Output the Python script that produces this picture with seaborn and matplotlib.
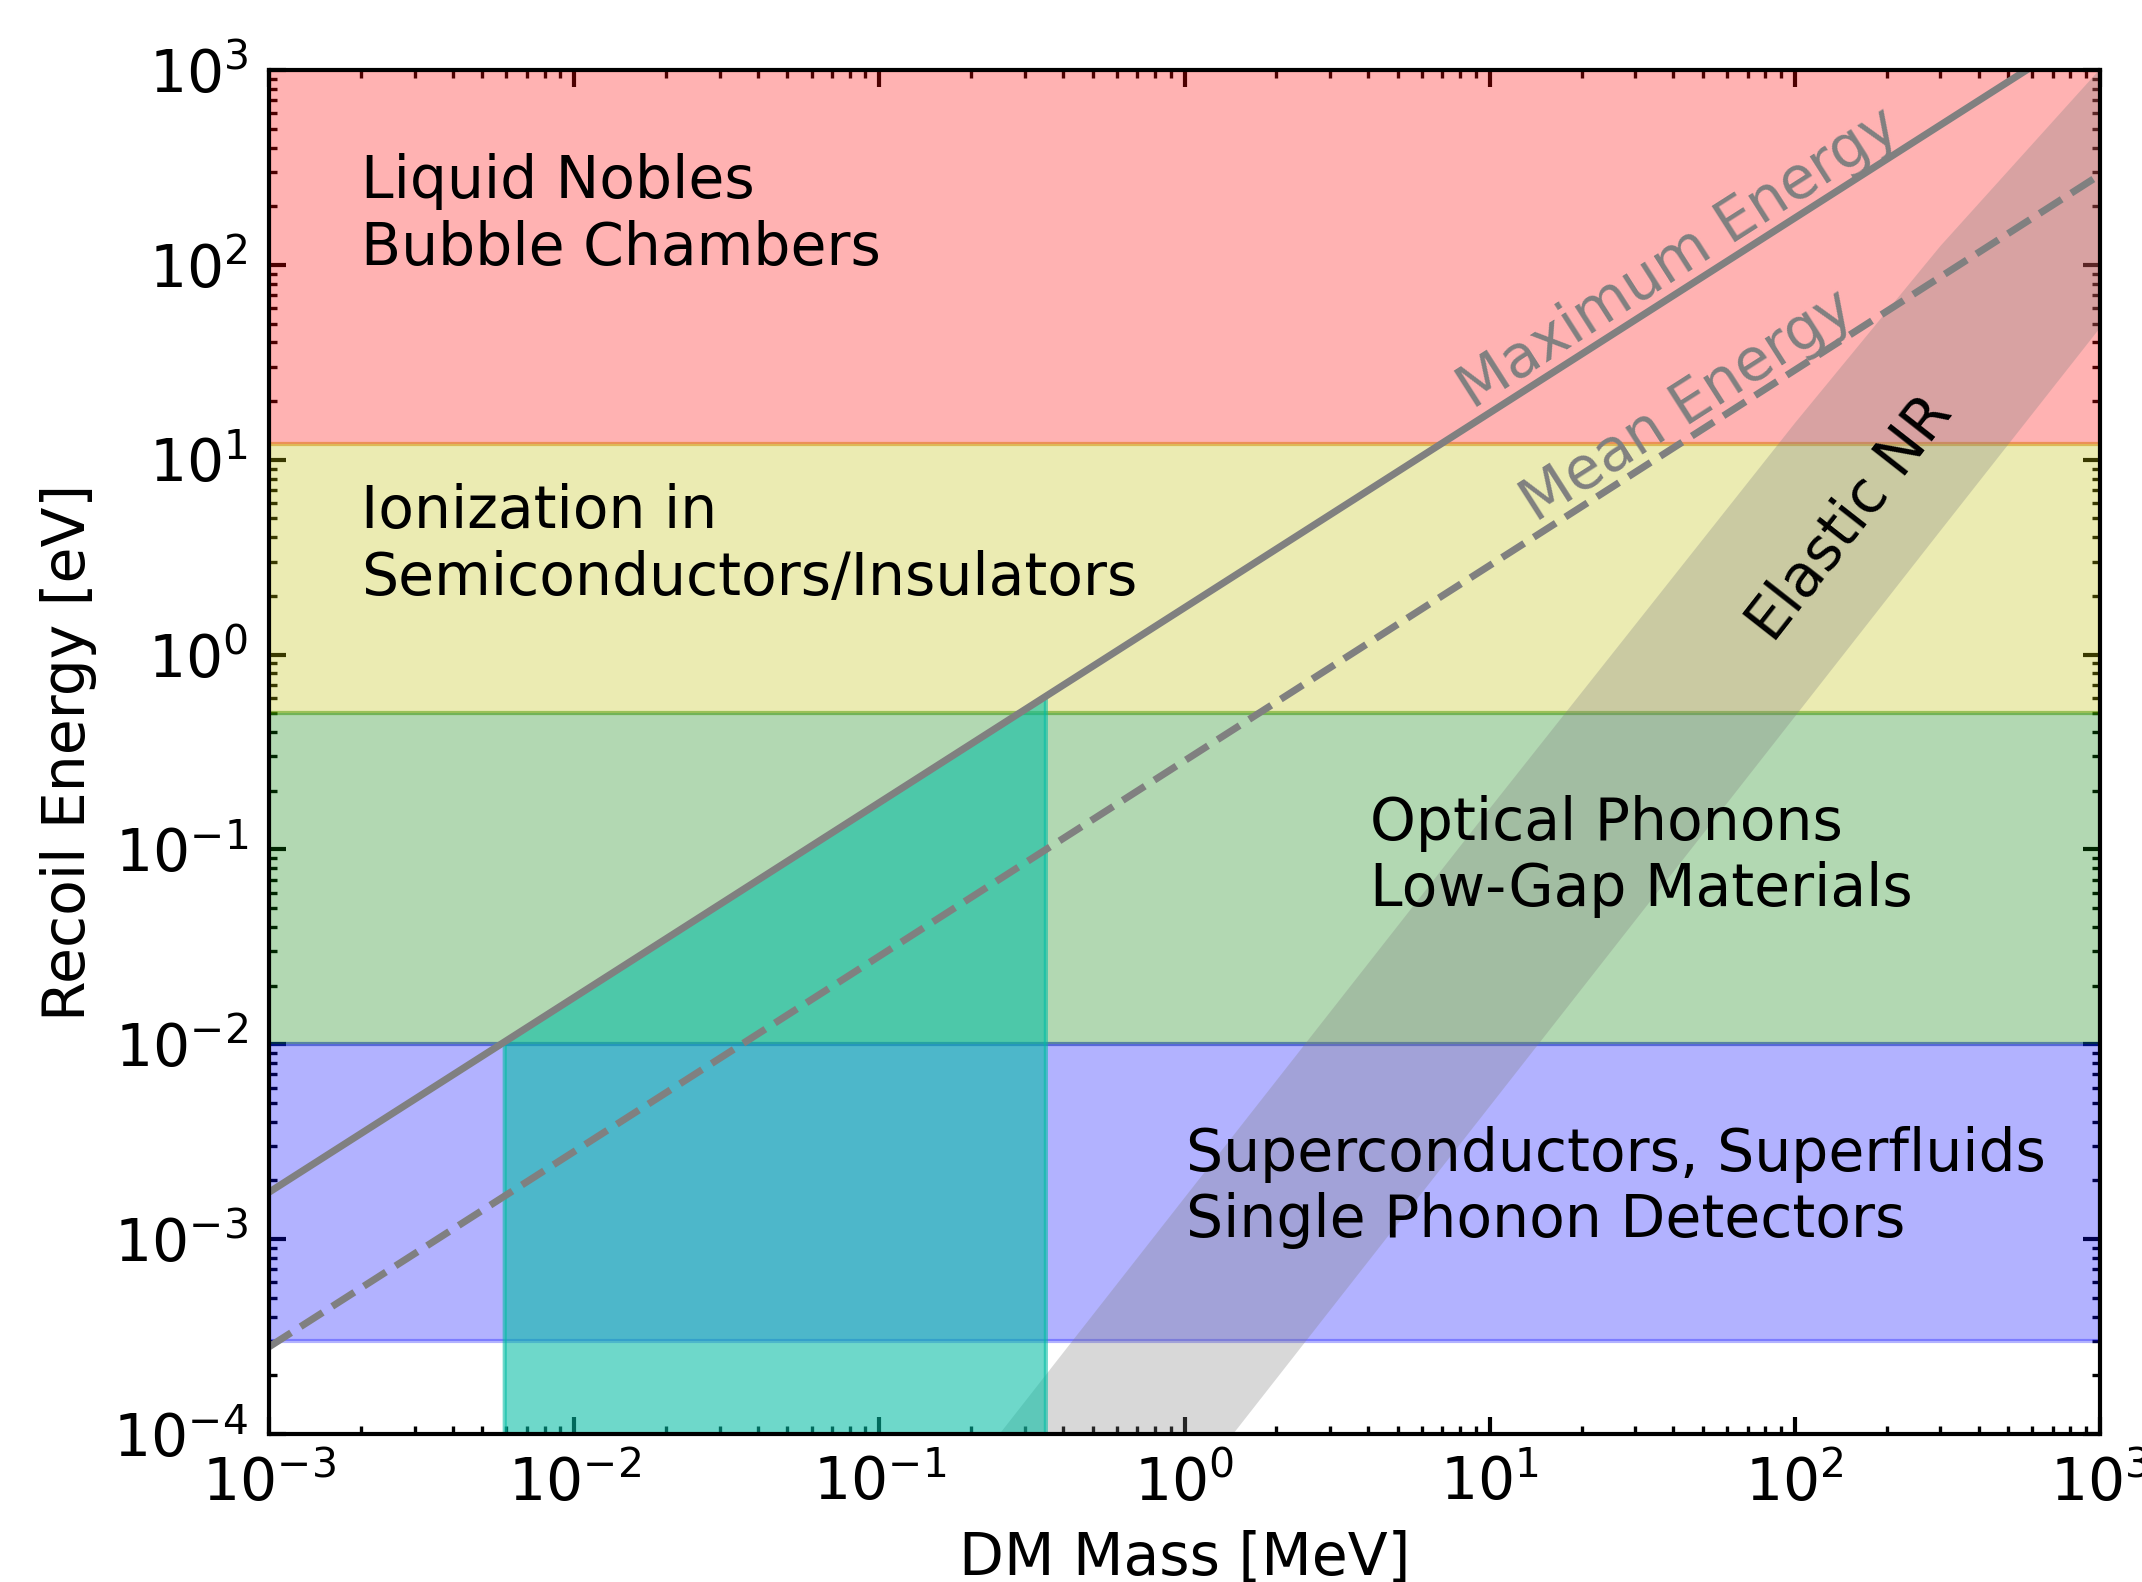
import numpy as np
import pandas as pd
import matplotlib
matplotlib.use("Agg")
import matplotlib.pyplot as plt
import seaborn as sns

# ---------------- data ----------------
mass_range = [1e-3, 1e3]          # DM mass axis [MeV]
energy_range = [1e-4, 1e3]        # recoil energy axis [eV]

band_names = ["Liquid Nobles\nBubble Chambers",
              "Ionization in\nSemiconductors/Insulators",
              "Optical Phonons\nLow-Gap Materials",
              "Superconductors, Superfluids\nSingle Phonon Detectors"]
band_low = [12.0, 0.5, 0.01, 3e-4]
band_high = [1e3, 12.0, 0.5, 0.01]
band_colors = ["red", "y", "g", "b"]
band_label_x = [2.0e-3, 2.0e-3, 4.06, 1.01]
band_label_y = [180.0, 3.65, 0.092, 1.84e-3]

line_mass = [1e-3, 1e3]
max_energy = [1.74e-3, 1.74e3]
mean_energy = [2.8e-4, 2.9e2]

nr_mass = [0.1, 1.0, 10.0, 100.0, 300.0, 1000.0]
nr_upper = [1.63e-5, 1.63e-3, 0.162, 15.4, 125.0, 1010.0]
nr_lower = [4.8e-7, 4.8e-5, 4.8e-3, 0.48, 4.32, 47.5]

teal_mass = [0.0059, 0.35]
teal_top = [0.0103, 0.61]

# ---------------- figure ----------------
sns.set_style("white")
plt.rcParams['font.family'] = ['DejaVu Sans']
plt.rcParams['mathtext.fontset'] = 'dejavusans'
plt.rcParams['mathtext.default'] = 'regular'
plt.rcParams['text.color'] = 'black'
plt.rcParams['axes.labelcolor'] = 'black'
plt.rcParams['xtick.color'] = 'black'
plt.rcParams['ytick.color'] = 'black'

FS = 14
fig = plt.figure(figsize=(2142 / 300, 1582 / 300), dpi=300)
ax = fig.add_axes([269 / 2142, 1 - 1434 / 1582, 1831 / 2142, 1364 / 1582])
ax.set_xscale('log')
ax.set_yscale('log')
ax.set_xlim(*mass_range)
ax.set_ylim(*energy_range)

# detector bands
for lo, hi, c in zip(band_low, band_high, band_colors):
    ax.fill_between(mass_range, [lo, lo], [hi, hi], color=c, alpha=0.3,
                    linewidth=1.0, zorder=1)

# elastic NR band
ax.fill_between(nr_mass, nr_lower, nr_upper, facecolor='gray', alpha=0.3,
                linewidth=0, zorder=1.5)

# teal region
ax.fill_between(teal_mass, [energy_range[0]] * 2, teal_top, color='#00BCA3',
                alpha=0.57, linewidth=1.0, zorder=1.7)

# kinematic lines
df = pd.DataFrame({"mass": line_mass, "max": max_energy, "mean": mean_energy})
sns.lineplot(data=df, x="mass", y="max", color='gray', lw=1.7, ax=ax, zorder=3)
sns.lineplot(data=df, x="mass", y="mean", color='gray', lw=1.7, ax=ax,
             linestyle='--', zorder=3)

# restore limits after seaborn
ax.set_xlim(*mass_range)
ax.set_ylim(*energy_range)


def angle_of(x, y):
    p = ax.transData.transform(np.column_stack([x, y]))
    d = p[-1] - p[0]
    return np.degrees(np.arctan2(d[1], d[0]))


ang_line = angle_of(line_mass, max_energy)
ang_nr = angle_of([nr_mass[1], nr_mass[3]], [nr_lower[1], nr_lower[3]])

for name, x, y in zip(band_names, band_label_x, band_label_y):
    ax.text(x, y, name, fontsize=FS, ha='left', va='center', linespacing=1.22,
            color='black', zorder=5)

ax.text(41.5, 108.0, "Maximum Energy", fontsize=FS, color='gray',
        rotation=ang_line, ha='center', va='center', rotation_mode='anchor', zorder=5)
ax.text(44.4, 18.8, "Mean Energy", fontsize=FS, color='gray',
        rotation=ang_line, ha='center', va='center', rotation_mode='anchor', zorder=5)
ax.text(152.0, 5.0, "Elastic NR", fontsize=FS, color='black',
        rotation=ang_nr, ha='center', va='center', rotation_mode='anchor', zorder=5)

ax.set_xlabel("DM Mass [MeV]", fontsize=FS, color='black')
ax.set_ylabel("Recoil Energy [eV]", fontsize=FS, color='black')

ax.tick_params(which='both', direction='in', top=True, right=True,
               bottom=True, left=True, labelsize=FS, colors='black')
ax.tick_params(which='major', length=4, width=1.0, pad=5)
ax.tick_params(which='minor', length=2, width=0.8)
ax.xaxis.set_major_locator(matplotlib.ticker.LogLocator(base=10, numticks=20))
ax.yaxis.set_major_locator(matplotlib.ticker.LogLocator(base=10, numticks=20))
ax.xaxis.set_minor_locator(matplotlib.ticker.LogLocator(base=10, subs=np.arange(2, 10), numticks=20))
ax.yaxis.set_minor_locator(matplotlib.ticker.LogLocator(base=10, subs=np.arange(2, 10), numticks=20))
ax.xaxis.set_minor_formatter(matplotlib.ticker.NullFormatter())
ax.yaxis.set_minor_formatter(matplotlib.ticker.NullFormatter())
for s in ax.spines.values():
    s.set_linewidth(1.0)
    s.set_color('black')
    s.set_zorder(6)

fig.savefig("out.png", dpi=300)
